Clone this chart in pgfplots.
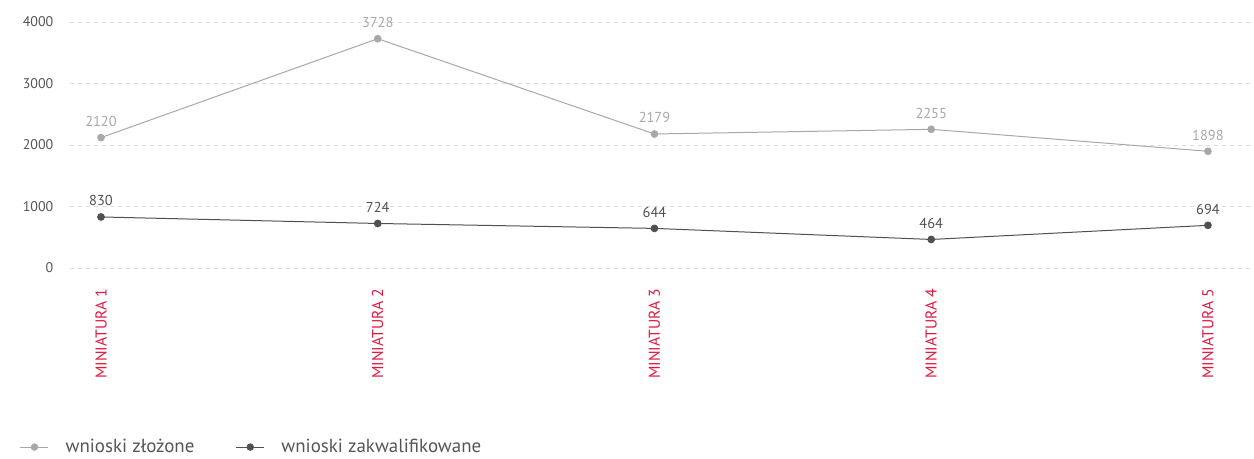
\documentclass[border=0pt]{standalone}
\usepackage{fontspec}
\setmainfont{PT Sans}
\usepackage{pgfplots}
\pgfplotsset{compat=1.18}
\definecolor{lgray}{HTML}{A8A8A8}
\definecolor{dgray}{HTML}{505050}
\definecolor{tickc}{HTML}{555555}
\definecolor{gridc}{HTML}{DDDDDD}
\definecolor{redc}{HTML}{E0193F}
\begin{document}
\begin{tikzpicture}
\path[use as bounding box] (0pt,0pt) rectangle (940.5pt,343.5pt);
\begin{axis}[
  at={(52.5pt,142.5pt)}, anchor=south west,
  scale only axis, width=885pt, height=184.5pt,
  xmin=-0.112, xmax=4.152, ymin=0, ymax=4000,
  axis line style={draw=none},
  tick style={draw=none},
  ytick={0,1000,2000,3000,4000},
  xtick={0,1,2,3,4},
  xticklabels={MINIATURA 1,MINIATURA 2,MINIATURA 3,MINIATURA 4,MINIATURA 5},
  /pgf/number format/assume math mode=true,
  /pgf/number format/1000 sep={},
  yticklabel style={font=\fontsize{10.5pt}{12pt}\selectfont, text=tickc, anchor=east, xshift=-9pt},
  xticklabel style={font=\fontsize{11.8pt}{12pt}\selectfont, text=redc, rotate=90, anchor=east, xshift=-12pt},
  ymajorgrids, grid style={gridc, dashed, line width=0.5pt},
  clip=false,
  legend style={draw=none, fill=none, at={(-0.046,-0.728)}, anchor=west,
    font=\fontsize{14.2pt}{16pt}\selectfont, text=tickc, legend columns=2,
    /tikz/every odd column/.append style={column sep=10.5pt},
    /tikz/every even column/.append style={column sep=29pt}},
  legend image code/.code={\draw[#1, mark=none] (0pt,0pt) -- (21pt,0pt); \fill[#1] (10.5pt,0pt) circle (2.4pt);},
  nodes near coords,
  point meta=explicit symbolic,
]
\addplot[lgray, line width=0.75pt, mark=*, mark size=2.5pt, nodes near coords style={font=\fontsize{10.8pt}{12pt}\selectfont, text=lgray, yshift=4.5pt}]
  coordinates {(0,2120)[2120] (1,3728)[3728] (2,2179)[2179] (3,2255)[2255] (4,1898)[1898]};
\addlegendentry{wnioski złożone}
\addplot[dgray, line width=0.75pt, mark=*, mark size=2.5pt, nodes near coords style={font=\fontsize{10.8pt}{12pt}\selectfont, text=dgray, yshift=4.5pt}]
  coordinates {(0,830)[830] (1,724)[724] (2,644)[644] (3,464)[464] (4,694)[694]};
\addlegendentry{wnioski zakwalifikowane}
\end{axis}
\end{tikzpicture}
\end{document}
